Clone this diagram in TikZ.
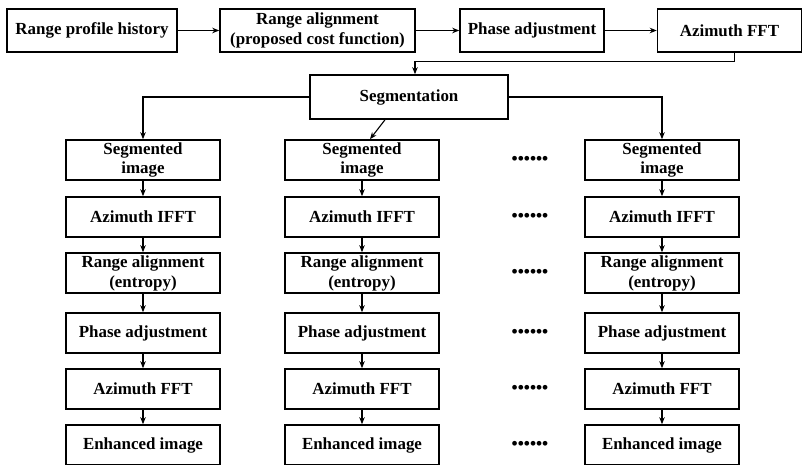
\documentclass[tikz,border=0pt]{standalone}
\usepackage{fontspec}
\setmainfont{Liberation Serif}
\usetikzlibrary{arrows.meta}
\begin{document}
\begin{tikzpicture}[x=1bp,y=-1bp,
  box/.style={draw, line width=1.6bp, align=center, font=\fontsize{17}{20}\selectfont\bfseries, inner sep=1bp},
  topbox/.style={box, minimum height=43bp},
  colbox/.style={box, minimum width=154bp, minimum height=40bp},
  arr/.style={line width=1.1bp, -{Stealth[length=7bp,width=5.5bp]}},
  dotsnode/.style={font=\fontsize{17.5}{17.5}\selectfont\bfseries, inner sep=0pt}]
\useasboundingbox (0,0) rectangle (804,465);
% top row
\node[topbox, minimum width=170bp] (b1) at (92,30.5) {Range profile history};
\node[topbox, minimum width=195bp] (b2) at (317.5,30.5) {Range alignment\\(proposed cost function)};
\node[topbox, minimum width=144bp] (b3) at (532,30.5) {Phase adjustment};
\node[topbox, minimum width=144bp] (b4) at (729.5,30.5) {Azimuth FFT};
\draw[arr] (b1) -- (b2);
\draw[arr] (b2) -- (b3);
\draw[arr] (b3) -- (b4);
% segmentation
\node[box, minimum width=198bp, minimum height=44bp] (seg) at (409,97) {Segmentation};
\draw[arr] ([xshift=5bp]b4.south) -- ++(0,9) -| ([xshift=6bp]seg.north);
% columns
\foreach \c/\x in {1/143,2/362,3/662}{
  \node[colbox] (c\c r1) at (\x,160) {Segmented\\image};
  \node[colbox] (c\c r2) at (\x,217) {Azimuth IFFT};
  \node[colbox] (c\c r3) at (\x,273) {Range alignment\\(entropy)};
  \node[colbox] (c\c r4) at (\x,333) {Phase adjustment};
  \node[colbox] (c\c r5) at (\x,389) {Azimuth FFT};
  \node[colbox] (c\c r6) at (\x,445) {Enhanced image};
  \foreach \r/\n in {1/2,2/3,3/4,4/5,5/6}
    \draw[arr] (c\c r\r.south) -- (c\c r\n.north);
}
% dots
\foreach \r/\y in {1/160,2/217,3/273,4/333,5/389,6/445}
  \node[dotsnode] (d\r) at (530,\y) {••••••};
% segmentation branches
\draw[arr] (seg.west) -| (c1r1.north);
\draw[arr] (seg.east) -| (c3r1.north);
\draw[arr] ([xshift=-24bp]seg.south) -- ([xshift=8bp]c2r1.north);
\end{tikzpicture}
\end{document}
